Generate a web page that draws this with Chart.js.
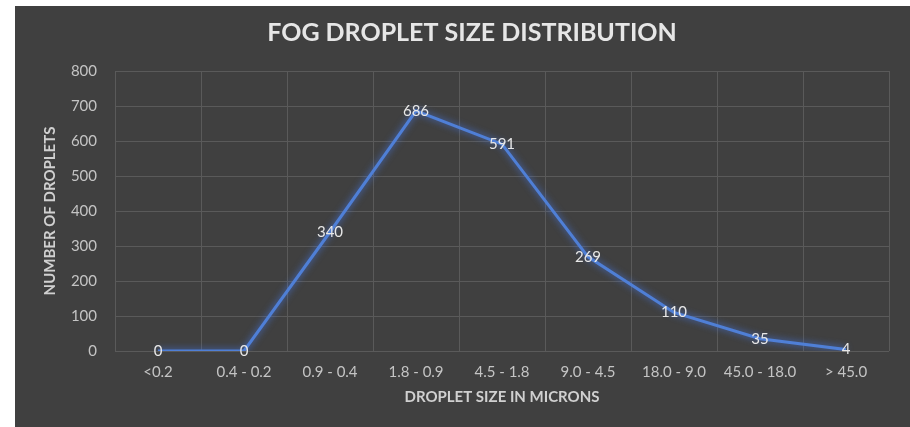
<!DOCTYPE html>
<html>
<head>
<meta charset="utf-8">
<script src="https://cdn.jsdelivr.net/npm/chart.js@4"></script>
<style>
    html, body { margin: 0; padding: 0; background: #ffffff; }
    #wrap {
        position: absolute;
        left: 15px;
        top: 6px;
        width: 895px;
        height: 421px;
        background: #404040;
    }
</style>
</head>
<body>
<div id="wrap"><canvas id="chart" width="895" height="421"></canvas></div>
<script>
'use strict';

let sizeLabels = ['<0.2', '0.4 - 0.2', '0.9 - 0.4', '1.8 - 0.9', '4.5 - 1.8', '9.0 - 4.5', '18.0 - 9.0', '45.0 - 18.0', '> 45.0'],
    dropletCounts = [0, 0, 340, 686, 591, 269, 110, 35, 4],
    yTicks = [0, 100, 200, 300, 400, 500, 600, 700, 800];

let fontName = 'Lato, "Liberation Sans", sans-serif';

// glow under the line, like the Excel one
let glowPlugin = {
    id: 'glow',
    beforeDatasetDraw(chart) {
        let ctx = chart.ctx;
        ctx.save();
        ctx.shadowColor = 'rgba(70, 120, 230, 0.9)';
        ctx.shadowBlur = 7;
    },
    afterDatasetDraw(chart) {
        chart.ctx.restore();
    }
};

// value labels sitting right on the points
let valueLabels = {
    id: 'valueLabels',
    afterDatasetsDraw(chart) {
        let ctx = chart.ctx;
        let meta = chart.getDatasetMeta(0);
        ctx.save();
        ctx.font = '15px ' + fontName;
        ctx.fillStyle = '#e8e8e8';
        ctx.textAlign = 'center';
        ctx.textBaseline = 'middle';
        meta.data.forEach(function (pt, i) {
            ctx.fillText(String(dropletCounts[i]), pt.x, pt.y);
        });
        ctx.restore();
    }
};

function drawChart() {
    let ctx = document.getElementById('chart').getContext('2d');

    new Chart(ctx, {
        type: 'line',
        data: {
            labels: sizeLabels,
            datasets: [{
                data: dropletCounts,
                borderColor: '#4f7fd6',
                borderWidth: 3,
                pointRadius: 0,
                tension: 0,
                fill: false
            }]
        },
        options: {
            responsive: false,
            animation: false,
            // left padding pushes the title a bit right, like in the original
            layout: { padding: { top: 0, right: 21, left: 40, bottom: 0 } },
            plugins: {
                legend: { display: false },
                tooltip: { enabled: false },
                title: {
                    display: true,
                    text: 'FOG DROPLET SIZE DISTRIBUTION',
                    color: '#e6e6e6',
                    font: { family: fontName, size: 25, weight: 'bold' },
                    padding: { top: 12, bottom: 23 }
                }
            },
            scales: {
                x: {
                    type: 'category',
                    offset: true,
                    grid: { color: '#5a5a5a', offset: true, drawTicks: false },
                    border: { display: false },
                    ticks: {
                        color: '#c4c4c4',
                        font: { family: fontName, size: 15 },
                        padding: 12,
                        maxRotation: 0,
                        autoSkip: false
                    },
                    title: {
                        display: true,
                        text: 'DROPLET SIZE IN MICRONS',
                        color: '#d0d0d0',
                        font: { family: fontName, size: 15, weight: 'bold' },
                        padding: { top: 0, bottom: 21 }
                    },
                    afterFit(scale) { scale.height = 76; }
                },
                y: {
                    min: 0,
                    max: 800,
                    afterBuildTicks(scale) {
                        scale.ticks = yTicks.map(v => ({ value: v }));
                    },
                    grid: { color: '#5a5a5a', drawTicks: false },
                    border: { display: false },
                    ticks: {
                        color: '#c4c4c4',
                        font: { family: fontName, size: 15 },
                        padding: 18
                    },
                    title: {
                        display: true,
                        text: 'NUMBER OF DROPLETS',
                        color: '#d0d0d0',
                        font: { family: fontName, size: 15, weight: 'bold' },
                        padding: { top: -14, bottom: 0 }
                    },
                    afterFit(scale) { scale.width = 60; }
                }
            }
        },
        plugins: [glowPlugin, valueLabels]
    });
}

drawChart();
</script>
</body>
</html>
